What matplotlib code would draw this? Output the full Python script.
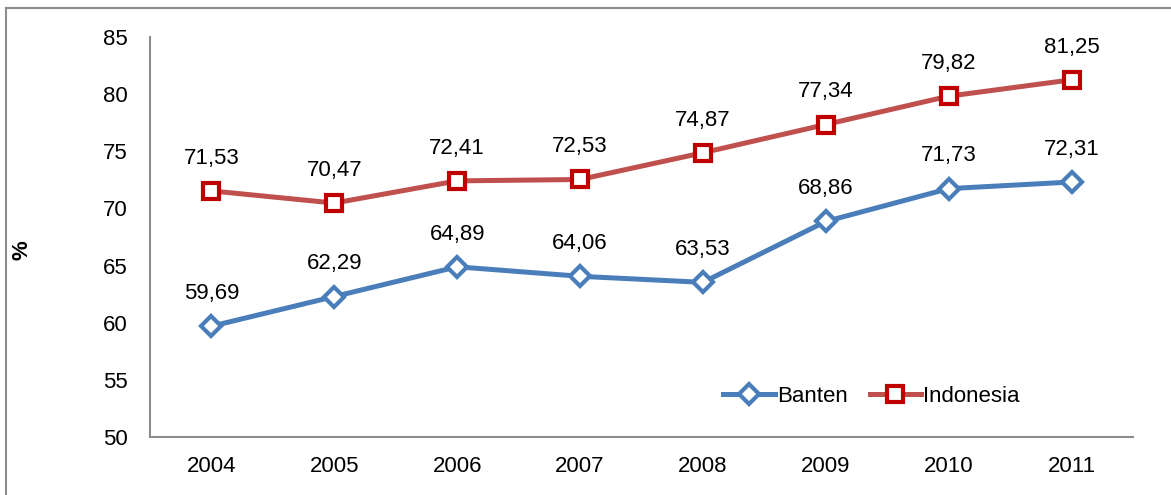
import matplotlib
matplotlib.use("Agg")
from matplotlib import pyplot as plt
from matplotlib.lines import Line2D

plt.rcParams['font.family'] = ['Liberation Sans', 'DejaVu Sans']

years = ["2004", "2005", "2006", "2007", "2008", "2009", "2010", "2011"]
banten = [59.69, 62.29, 64.89, 64.06, 63.53, 68.86, 71.73, 72.31]
indonesia = [71.53, 70.47, 72.41, 72.53, 74.87, 77.34, 79.82, 81.25]

blue = "#4A7EBB"
red_line = "#C0504D"
red_mark = "#C00000"

fig = plt.figure(figsize=(11.71, 4.95), dpi=100)
ax = fig.add_axes([0.1281, 0.1172, 0.8394, 0.8081])

x = range(len(years))
ax.plot(x, banten, color=blue, lw=3.6, marker='D', ms=10, mfc='white',
        mec=blue, mew=3, label="Banten", solid_joinstyle='round')
ax.plot(x, indonesia, color=red_line, lw=3.6, marker='s', ms=11, mfc='white',
        mec=red_mark, mew=3, label="Indonesia", solid_joinstyle='round')

for i in x:
    ax.annotate(f"{banten[i]:.2f}".replace('.', ','), (i, banten[i]),
                xytext=(0, 16), textcoords='offset points', ha='center',
                va='bottom', fontsize=16)
    ax.annotate(f"{indonesia[i]:.2f}".replace('.', ','), (i, indonesia[i]),
                xytext=(0, 16), textcoords='offset points', ha='center',
                va='bottom', fontsize=16)

ax.set_xlim(-0.5, 7.5)
ax.set_ylim(50, 85)
ax.set_yticks(range(50, 86, 5))
ax.set_xticks(list(x))
ax.set_xticklabels(years)
ax.tick_params(length=0, labelsize=16, pad=14)
ax.tick_params(axis='y', pad=16)
for s in ['top', 'right']:
    ax.spines[s].set_visible(False)
for s in ['left', 'bottom']:
    ax.spines[s].set_color('#8C8C8C')
    ax.spines[s].set_linewidth(1.5)

fig.text(22/1171, 1 - 250/495, "%", rotation=90, fontsize=16, fontweight='bold',
         ha='center', va='center')

ax.legend(loc='lower right', bbox_to_anchor=(0.905, 0.025), ncol=2, frameon=False,
          fontsize=16, handlelength=2.3, handletextpad=0.1, columnspacing=1.0)

# outer frame
fig.add_artist(Line2D([6/1171, 6/1171], [0, 1 - 8/495], color='#8C8C8C', lw=1.5))
fig.add_artist(Line2D([6/1171, 1], [1 - 8/495, 1 - 8/495], color='#8C8C8C', lw=1.5))

fig.savefig("out.png", dpi=100)
